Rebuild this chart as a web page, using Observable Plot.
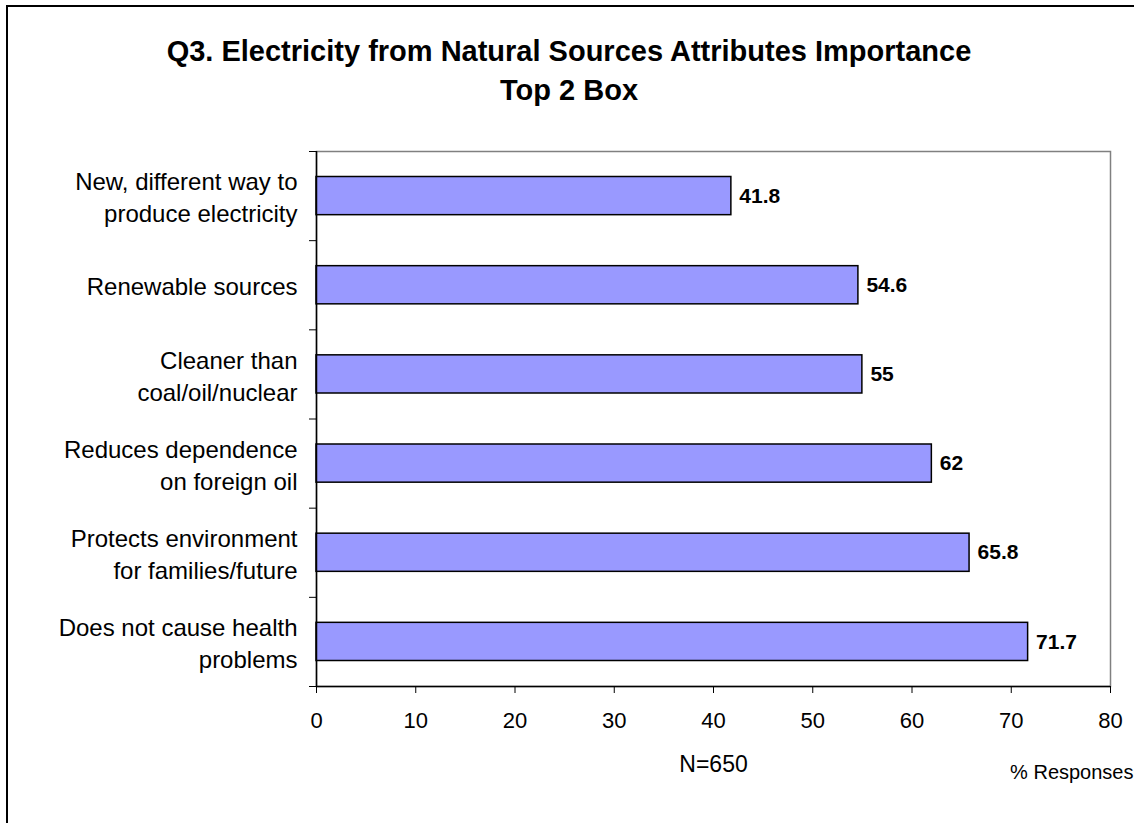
<!DOCTYPE html>
<html>
<head>
<meta charset="utf-8">
<script src="https://cdn.jsdelivr.net/npm/d3@7"></script>
<script src="https://cdn.jsdelivr.net/npm/@observablehq/plot@0.6"></script>
<style>
  html, body { margin: 0; padding: 0; background: #fff; overflow: hidden; }
  #wrap { position: relative; width: 1134px; height: 823px; }
  #box { position: absolute; left: 6px; top: 5px; width: 1200px; height: 900px; border: 2px solid #000; box-sizing: border-box; }
  #chart { position: absolute; left: 0; top: 0; }
</style>
</head>
<body>
<div id="wrap"><div id="box"></div><div id="chart"></div></div>
<script>
// Attributes, listed top to bottom
const attributes = [
  "New, different way to\nproduce electricity",
  "Renewable sources",
  "Cleaner than\ncoal/oil/nuclear",
  "Reduces dependence\non foreign oil",
  "Protects environment\nfor families/future",
  "Does not cause health\nproblems"
];
// Top 2 Box share, % responses
const values = [41.8, 54.6, 55, 62, 65.8, 71.7];
const xTicks = [0, 10, 20, 30, 40, 50, 60, 70, 80];
const titleLines = ["Q3. Electricity from Natural Sources Attributes Importance", "Top 2 Box"];
const sampleNote = "N=650";
const axisNote = "% Responses";

const rows = attributes.map((label, i) => ({label, value: values[i], row: i}));
const font = "'Liberation Sans', Arial, sans-serif";

const chart = Plot.plot({
  width: 1134,
  height: 823,
  marginLeft: 316,
  marginRight: 24,
  marginTop: 151,
  marginBottom: 137,
  style: {fontFamily: font, fontSize: "22px", color: "#000", background: "transparent", overflow: "visible"},
  x: {domain: [0, 80], label: null},
  y: {domain: [0, attributes.length], reverse: true, label: null},
  marks: [
    Plot.frame({stroke: "#808080", strokeWidth: 1.5}),
    Plot.rect(rows, {
      x1: 0, x2: "value",
      y1: "row", y2: d => d.row + 1,
      insetTop: 25.5, insetBottom: 25.5,
      fill: "#9999ff", stroke: "#000", strokeWidth: 1.5
    }),
    Plot.text(rows, {
      x: "value", y: d => d.row + 0.5,
      text: d => String(d.value),
      dx: 8, textAnchor: "start",
      fontWeight: "bold", fontSize: 21, fill: "#000"
    }),
    // band boundaries on the category axis
    Plot.axisY({ticks: d3.range(0, attributes.length + 1), tickSize: 7, tickFormat: () => "", stroke: "#000", label: null}),
    Plot.axisY({
      ticks: attributes.map((_, i) => i + 0.5),
      tickSize: 0, tickPadding: 19,
      tickFormat: t => attributes[Math.floor(t)],
      fontSize: 24, lineHeight: 1.33, fill: "#000", textAnchor: "end", label: null
    }),
    Plot.axisX({ticks: xTicks, tickSize: 7, tickPadding: 19, fontSize: 22, fill: "#000", label: null, stroke: "#000"}),
    Plot.ruleX([0], {stroke: "#000", strokeWidth: 1.5}),
    Plot.ruleY([attributes.length], {stroke: "#000", strokeWidth: 1.5}),
    Plot.text([sampleNote], {frameAnchor: "bottom", dy: 85, lineAnchor: "bottom", fontSize: 23, fill: "#000"}),
    Plot.text([axisNote], {frameAnchor: "bottom-right", dx: 23, dy: 92, lineAnchor: "bottom", textAnchor: "end", fontSize: 20, fill: "#000"})
  ]
});

const svg = d3.select(chart);
svg.append("g")
  .attr("font-family", font)
  .attr("font-weight", "bold")
  .attr("font-size", 29)
  .attr("text-anchor", "middle")
  .selectAll("text")
  .data(titleLines)
  .join("text")
  .attr("x", 569)
  .attr("y", (d, i) => 61 + i * 39)
  .text(d => d);

document.getElementById("chart").append(chart);
</script>
</body>
</html>
